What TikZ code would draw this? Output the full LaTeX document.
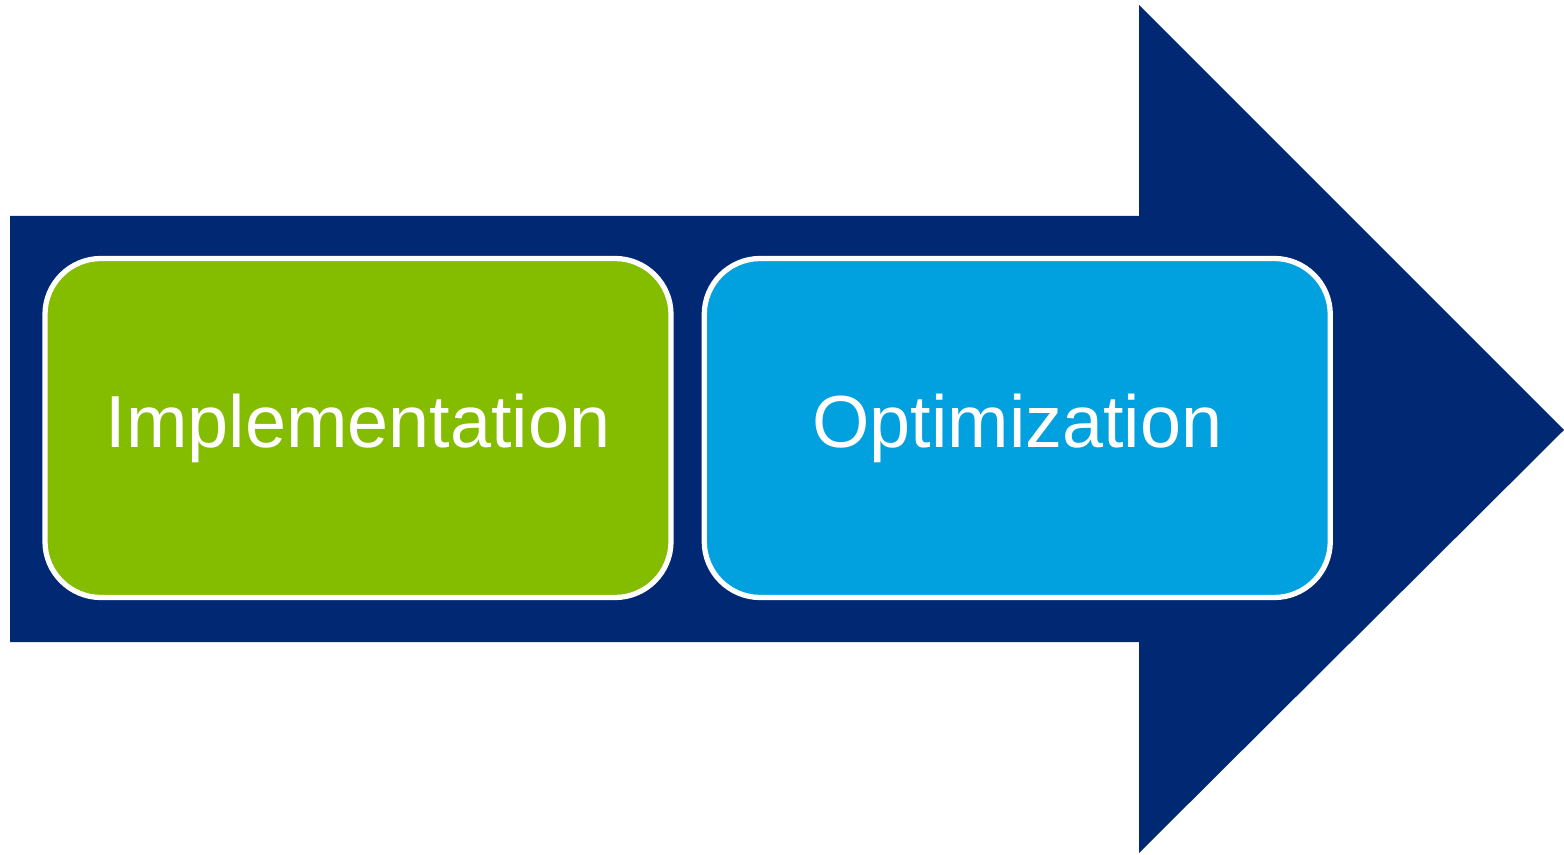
\documentclass[tikz,border=0pt]{standalone}
\usepackage{fontspec}
\setmainfont{Liberation Sans}
\usetikzlibrary{positioning}

\definecolor{arrownavy}{RGB}{0,40,115}
\definecolor{stepgreen}{RGB}{132,189,0}
\definecolor{stepblue}{RGB}{0,161,222}

\begin{document}
\begin{tikzpicture}[
        node distance=0.28cm,
        stagebox/.style={draw=white, line width=1.5pt, rounded corners=0.56cm,
            minimum width=6.26cm, minimum height=3.39cm, text=white,
            font=\fontsize{21}{25}\selectfont}
        ]
        \useasboundingbox (0,0) rectangle (15.64,8.54);
        % Big arrow behind the stages
        \fill[arrownavy] (0.10,6.38) -- (11.39,6.38) -- (11.39,8.49) -- (15.64,4.24)
            -- (11.39,0.01) -- (11.39,2.12) -- (0.10,2.12) -- cycle;
        % Stages
        \node (impl) [stagebox, fill=stepgreen] at (3.58,4.26) {Implementation};
        \node (optim) [stagebox, fill=stepblue, right=of impl] {Optimization};
    \end{tikzpicture}
\end{document}
